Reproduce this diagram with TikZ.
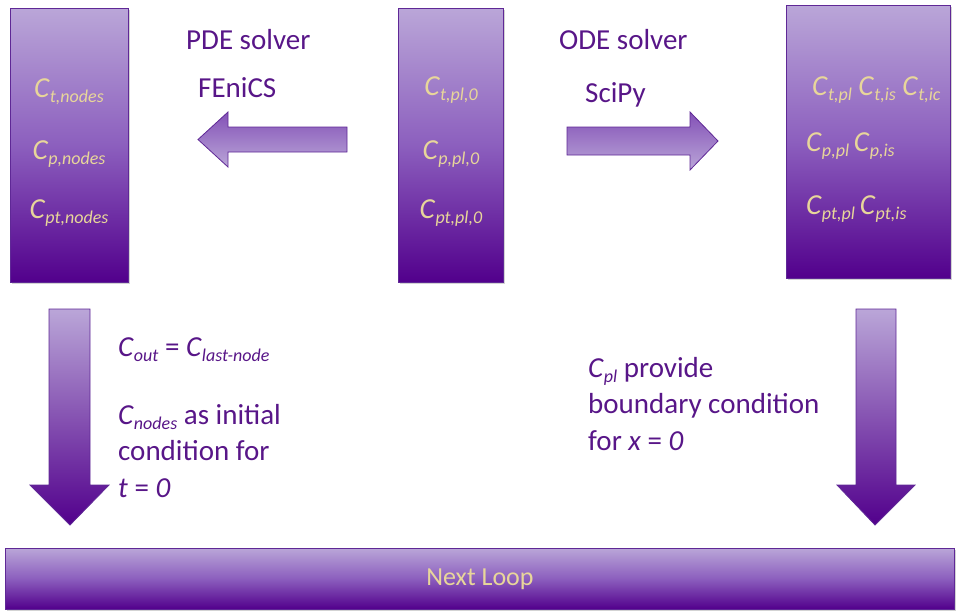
\documentclass[tikz,border=0pt]{standalone}
\usepackage{fontspec}
\setmainfont{Carlito}
\usetikzlibrary{shadows}
\definecolor{lav}{RGB}{186,166,216}
\definecolor{midp}{RGB}{140,95,190}
\definecolor{deep}{RGB}{82,0,140}
\definecolor{edge}{RGB}{95,40,150}
\definecolor{txtp}{RGB}{88,22,136}
\definecolor{beige}{RGB}{232,214,154}
\newcommand\Csub[1]{\textit{C}{\fontsize{18}{18}\selectfont\raisebox{-5pt}{\textit{#1}}}}
\tikzset{
  bigbox/.style={draw=edge, line width=0.8pt, top color=lav, bottom color=deep, middle color=midp,
    drop shadow={shadow xshift=1.5pt, shadow yshift=-1.5pt, opacity=0.35}},
  blockarrow/.style={draw=edge, line width=0.8pt},
  boxtxt/.style={text=beige, font=\fontsize{29}{32}\selectfont, inner sep=0pt},
  lbl/.style={text=txtp, font=\fontsize{29}{36.5}\selectfont, inner sep=0pt, align=left, anchor=west},
}
\begin{document}
\begin{tikzpicture}[x=1pt,y=-1pt]
\useasboundingbox (0,0) rectangle (958,611);
% boxes
\path[bigbox] (10,8) rectangle (128,282);
\path[bigbox] (398,8) rectangle (503,282);
\path[bigbox] (786,5) rectangle (950,278);
\path[bigbox] (5,548) rectangle (954,609);
% box texts
\node[boxtxt] (a1) at (69,92) {\Csub{t,nodes}};
\node[boxtxt] (a2) at (69,154) {\Csub{p,nodes}};
\node[boxtxt] (a3) at (69,213) {\Csub{pt,nodes}};
\node[boxtxt] (b1) at (451,90) {\Csub{t,pl,0}};
\node[boxtxt] (b2) at (451,154) {\Csub{p,pl,0}};
\node[boxtxt] (b3) at (451,213) {\Csub{pt,pl,0}};
\node[boxtxt, anchor=west] (c1) at (812,90) {\Csub{t,pl} \Csub{t,is} \Csub{t,ic}};
\node[boxtxt, anchor=west] (c2) at (806,146) {\Csub{p,pl}\,\Csub{p,is}};
\node[boxtxt, anchor=west] (c3) at (806,209) {\Csub{pt,pl}\,\Csub{pt,is}};
\node[text=beige, font=\fontsize{26}{28}\selectfont, inner sep=0pt] (nl) at (480,579) {Next Loop};
% horizontal arrows
\shade[blockarrow, top color=midp!85!deep, bottom color=lav] (347,127) -- (228,127) -- (228,112) -- (198,139.5) -- (228,167) -- (228,152) -- (347,152) -- cycle;
\shade[blockarrow, top color=midp!85!deep, bottom color=lav] (567,127) -- (690,127) -- (690,112) -- (718,141) -- (690,170) -- (690,155) -- (567,155) -- cycle;
% vertical arrows
\shade[blockarrow, top color=lav, bottom color=deep] (49,309) -- (90,309) -- (90,485) -- (109,485) -- (70,525) -- (30,485) -- (49,485) -- cycle;
\shade[blockarrow, top color=lav, bottom color=deep] (856,309) -- (896,309) -- (896,485) -- (915,485) -- (875,525) -- (837,485) -- (856,485) -- cycle;
% labels
\node[lbl] (pde) at (186,40) {PDE solver};
\node[lbl] (fen) at (198,88) {FEniCS};
\node[lbl] (ode) at (559,40) {ODE solver};
\node[lbl] (sci) at (585,95) {SciPy};
\node[lbl] (cout) at (118,350) {\Csub{out} = \Csub{last-node}};
\node[lbl, anchor=north west] (cn) at (118,404) {\Csub{nodes} as initial\\condition for\\\textit{t} = \textit{0}};
\node[lbl, anchor=north west] (cpl) at (588,357) {\Csub{pl} provide\\boundary condition\\for \textit{x} = \textit{0}};
\end{tikzpicture}
\end{document}
